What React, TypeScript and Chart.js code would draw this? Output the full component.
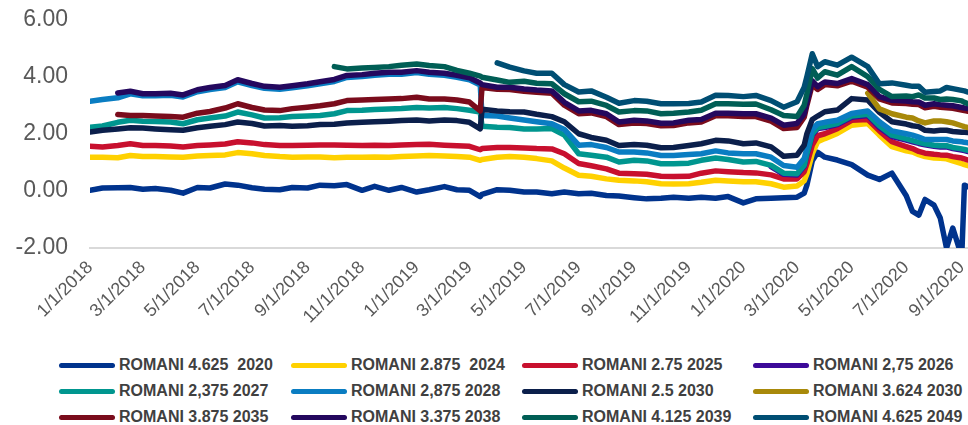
import React, { useEffect, useRef } from 'react';
import { Chart, registerables } from 'chart.js';

Chart.register(...registerables);

const dates = [
  '1/1/2018', '1/15/2018', '2/1/2018', '2/15/2018', '3/1/2018', '3/15/2018', '4/1/2018', '4/15/2018', '5/1/2018', '5/15/2018',
  '6/1/2018', '6/15/2018', '7/1/2018', '7/15/2018', '8/1/2018', '8/15/2018', '9/1/2018', '9/15/2018', '10/1/2018', '10/15/2018',
  '11/1/2018', '11/15/2018', '12/1/2018', '12/15/2018', '1/1/2019', '1/15/2019', '2/1/2019', '2/15/2019', '3/1/2019', '3/13/2019',
  '3/15/2019', '4/1/2019', '4/15/2019', '5/1/2019', '5/15/2019', '6/1/2019', '6/15/2019', '7/1/2019', '7/15/2019', '8/1/2019',
  '8/15/2019', '9/1/2019', '9/15/2019', '10/1/2019', '10/15/2019', '11/1/2019', '11/15/2019', '12/1/2019', '12/15/2019', '1/1/2020',
  '1/15/2020', '2/1/2020', '2/15/2020', '3/1/2020', '3/9/2020', '3/12/2020', '3/18/2020', '3/24/2020', '4/1/2020', '4/15/2020',
  '5/1/2020', '5/19/2020', '6/1/2020', '6/15/2020', '7/1/2020', '7/8/2020', '7/15/2020', '7/22/2020', '8/1/2020', '8/8/2020',
  '8/15/2020', '8/22/2020', '9/1/2020', '9/4/2020', '9/8/2020',
];

const tickLabels = [
  '1/1/2018', '3/1/2018', '5/1/2018', '7/1/2018', '9/1/2018', '11/1/2018',
  '1/1/2019', '3/1/2019', '5/1/2019', '7/1/2019', '9/1/2019', '11/1/2019',
  '1/1/2020', '3/1/2020', '5/1/2020', '7/1/2020', '9/1/2020',
];

const names = [
  'ROMANI 4.625  2020', 'ROMANI 2.875  2024', 'ROMANI 2.75 2025', 'ROMANI 2,75 2026',
  'ROMANI 2,375 2027', 'ROMANI 2,875 2028', 'ROMANI 2.5 2030', 'ROMANI 3.624 2030',
  'ROMANI 3.875 2035', 'ROMANI 3.375 2038', 'ROMANI 4.125 2039', 'ROMANI 4.625 2049',
];

const colors = [
  '#00338D', '#FFD100', '#C8102E', '#3C0A99',
  '#00968F', '#0A7DC2', '#0B1F4B', '#A8890A',
  '#7A0C1C', '#24085E', '#005E55', '#004E73',
];

const N = null;

const r2020 = [
  0.02, 0.10, 0.11, 0.12, 0.06, 0.08, 0.02, -0.08, 0.12, 0.10,
  0.24, 0.20, 0.11, 0.06, 0.04, 0.12, 0.10, 0.20, 0.18, 0.22,
  0.02, 0.16, 0.02, 0.12, -0.04, 0.04, 0.15, 0.04, 0.02, -0.20,
  -0.12, 0.04, 0.02, -0.04, -0.04, -0.10, -0.04, -0.10, -0.08, -0.16,
  -0.18, -0.24, -0.28, -0.26, -0.22, -0.26, -0.22, -0.26, -0.20, -0.42,
  -0.28, -0.26, -0.24, -0.22, -0.08, 0.20, 1.05, 1.35, 1.18, 1.08,
  0.92, 0.55, 0.40, 0.62, -0.17, -0.72, -0.85, -0.30, -0.50, -0.95,
  -2.00, -1.30, -2.30, 0.20, 0.15,
];

const r2024 = [
  1.18, 1.18, 1.16, 1.24, 1.20, 1.20, 1.19, 1.18, 1.22, 1.24,
  1.26, 1.34, 1.30, 1.24, 1.20, 1.18, 1.19, 1.19, 1.16, 1.18,
  1.18, 1.19, 1.18, 1.20, 1.22, 1.24, 1.22, 1.20, 1.18, 1.07,
  1.10, 1.18, 1.20, 1.18, 1.13, 1.05, 0.80, 0.55, 0.51, 0.42,
  0.37, 0.35, 0.32, 0.25, 0.24, 0.25, 0.30, 0.37, 0.35, 0.32,
  0.32, 0.25, 0.13, 0.17, 0.35, 0.60, 1.30, 1.72, 1.83, 2.01,
  2.30, 2.36, 1.95, 1.55, 1.40, 1.36, 1.27, 1.20, 1.15, 1.14,
  1.12, 1.05, 0.95, 0.92, 0.88,
];

const r2025 = [
  1.56, 1.54, 1.59, 1.65, 1.59, 1.59, 1.57, 1.54, 1.59, 1.61,
  1.64, 1.72, 1.68, 1.62, 1.59, 1.59, 1.60, 1.61, 1.61, 1.60,
  1.59, 1.60, 1.59, 1.61, 1.62, 1.63, 1.60, 1.58, 1.56, 1.44,
  1.48, 1.52, 1.52, 1.50, 1.48, 1.47, 1.30, 0.96, 0.88, 0.77,
  0.62, 0.60, 0.58, 0.51, 0.50, 0.51, 0.62, 0.70, 0.67, 0.64,
  0.63, 0.56, 0.42, 0.42, 0.67, 0.95, 1.60, 1.93, 2.00, 2.18,
  2.47, 2.50, 2.10, 1.72, 1.55, 1.48, 1.38, 1.32, 1.28, 1.26,
  1.25, 1.20, 1.15, 1.12, 1.08,
];

const r2026 = [
  N, N, N, N, N, N, N, N, N, N,
  N, N, N, N, N, N, N, N, N, N,
  N, N, N, N, N, N, N, N, N, N,
  N, N, N, N, N, N, N, N, N, N,
  N, N, N, N, N, N, N, N, N, N,
  N, 0.85, 0.58, 0.56, 0.86, 1.26, 1.95, 2.18, 2.22, 2.32,
  2.58, 2.64, 2.22, 1.90, 1.78, 1.72, 1.66, 1.61, 1.56, 1.54,
  1.54, 1.48, 1.43, 1.41, 1.38,
];

const r2027 = [
  2.23, 2.27, 2.40, 2.47, 2.44, 2.43, 2.41, 2.35, 2.49, 2.55,
  2.62, 2.76, 2.66, 2.55, 2.56, 2.60, 2.62, 2.64, 2.70, 2.81,
  2.82, 2.85, 2.87, 2.88, 2.92, 2.90, 2.92, 2.88, 2.82, 2.76,
  2.26, 2.23, 2.22, 2.17, 2.17, 2.18, 1.95, 1.30, 1.25, 1.18,
  1.01, 1.07, 1.05, 0.95, 0.95, 0.97, 1.07, 1.15, 1.10, 1.01,
  1.03, 0.89, 0.62, 0.60, 0.90, 1.30, 2.00, 2.22, 2.26, 2.36,
  2.62, 2.68, 2.28, 1.95, 1.82, 1.76, 1.70, 1.65, 1.60, 1.58,
  1.58, 1.52, 1.47, 1.45, 1.42,
];

const r2028 = [
  3.14, 3.20, 3.26, 3.40, 3.33, 3.33, 3.35, 3.29, 3.47, 3.55,
  3.62, 3.82, 3.69, 3.59, 3.56, 3.61, 3.68, 3.75, 3.83, 3.97,
  4.00, 4.05, 4.08, 4.08, 4.14, 4.08, 4.05, 3.98, 3.89, 3.71,
  2.64, 2.62, 2.55, 2.48, 2.42, 2.35, 2.15, 1.60, 1.62, 1.52,
  1.36, 1.36, 1.33, 1.24, 1.24, 1.27, 1.30, 1.40, 1.33, 1.30,
  1.30, 1.18, 0.89, 0.83, 1.13, 1.50, 2.15, 2.35, 2.40, 2.47,
  2.71, 2.80, 2.42, 2.10, 2.00, 1.95, 1.88, 1.80, 1.80, 1.80,
  1.80, 1.75, 1.72, 1.70, 1.68,
];

const r2030 = [
  2.06, 2.12, 2.17, 2.21, 2.20, 2.17, 2.14, 2.12, 2.21, 2.26,
  2.32, 2.41, 2.36, 2.27, 2.29, 2.26, 2.28, 2.32, 2.33, 2.38,
  2.40, 2.42, 2.44, 2.46, 2.48, 2.45, 2.48, 2.46, 2.40, 2.17,
  2.86, 2.80, 2.77, 2.76, 2.68, 2.60, 2.42, 2.00, 1.87, 1.77,
  1.59, 1.62, 1.60, 1.51, 1.52, 1.59, 1.65, 1.77, 1.75, 1.65,
  1.68, 1.54, 1.21, 1.25, 1.60, 2.00, 2.50, 2.62, 2.77, 2.83,
  3.23, 3.18, 2.75, 2.42, 2.34, 2.28, 2.25, 2.12, 2.10, 2.12,
  2.12, 2.08, 2.05, 2.05, 2.04,
];

const r2030b = [
  N, N, N, N, N, N, N, N, N, N,
  N, N, N, N, N, N, N, N, N, N,
  N, N, N, N, N, N, N, N, N, N,
  N, N, N, N, N, N, N, N, N, N,
  N, N, N, N, N, N, N, N, N, N,
  N, N, N, N, N, N, N, N, N, N,
  N, 3.42, 2.87, 2.70, 2.58, 2.55, 2.45, 2.38, 2.45, 2.45,
  2.42, 2.38, 2.28, 2.25, 2.22,
];

const r2035 = [
  N, N, 2.67, 2.64, 2.64, 2.62, 2.60, 2.58, 2.72, 2.78,
  2.90, 3.05, 2.92, 2.83, 2.81, 2.88, 2.93, 2.98, 3.05, 3.16,
  3.18, 3.20, 3.22, 3.23, 3.28, 3.22, 3.22, 3.18, 3.11, 2.80,
  3.62, 3.56, 3.55, 3.49, 3.45, 3.42, 3.00, 2.70, 2.73, 2.60,
  2.32, 2.38, 2.36, 2.28, 2.29, 2.38, 2.41, 2.63, 2.63, 2.60,
  2.60, 2.44, 2.18, 2.22, 2.58, 3.00, 3.72, 3.55, 3.72, 3.68,
  3.84, 3.63, 3.22, 3.08, 3.06, 3.03, 3.02, 2.91, 2.96, 2.93,
  2.91, 2.89, 2.83, 2.81, 2.79,
];

const r2038 = [
  N, N, 3.43, 3.49, 3.40, 3.40, 3.42, 3.36, 3.54, 3.62,
  3.69, 3.89, 3.76, 3.66, 3.63, 3.68, 3.75, 3.82, 3.90, 4.04,
  4.07, 4.12, 4.15, 4.15, 4.21, 4.15, 4.12, 4.05, 3.96, 3.78,
  3.72, 3.63, 3.63, 3.57, 3.53, 3.50, 3.10, 2.80, 2.82, 2.70,
  2.41, 2.47, 2.45, 2.37, 2.38, 2.47, 2.50, 2.72, 2.72, 2.70,
  2.70, 2.55, 2.30, 2.36, 2.70, 3.10, 3.85, 3.65, 3.81, 3.76,
  3.93, 3.72, 3.30, 3.17, 3.15, 3.12, 3.11, 3.00, 3.05, 3.02,
  3.00, 2.98, 2.92, 2.90, 2.88,
];

const r2039 = [
  N, N, N, N, N, N, N, N, N, N,
  N, N, N, N, N, N, N, N, 4.35, 4.27,
  4.30, 4.32, 4.35, 4.40, 4.44, 4.39, 4.35, 4.22, 4.12, 4.02,
  3.98, 3.88, 3.80, 3.84, 3.77, 3.75, 3.40, 3.12, 3.14, 2.99,
  2.76, 2.81, 2.80, 2.70, 2.72, 2.76, 2.82, 3.05, 3.05, 3.03,
  3.04, 2.84, 2.64, 2.60, 3.00, 3.40, 4.28, 3.95, 4.17, 4.05,
  4.35, 4.00, 3.55, 3.30, 3.32, 3.30, 3.36, 3.25, 3.25, 3.20,
  3.22, 3.20, 3.15, 3.10, 3.05,
];

const r2049 = [
  N, N, N, N, N, N, N, N, N, N,
  N, N, N, N, N, N, N, N, N, N,
  N, N, N, N, N, N, N, N, N, N,
  N, 4.48, 4.33, 4.20, 4.12, 4.12, 3.72, 3.46, 3.50, 3.28,
  3.07, 3.16, 3.14, 3.05, 3.05, 3.06, 3.11, 3.35, 3.34, 3.30,
  3.34, 3.16, 2.93, 3.12, 3.63, 4.00, 4.80, 4.35, 4.52, 4.40,
  4.68, 4.35, 3.75, 3.78, 3.70, 3.66, 3.66, 3.45, 3.48, 3.50,
  3.62, 3.58, 3.52, 3.50, 3.46,
];

const series = [r2020, r2024, r2025, r2026, r2027, r2028, r2030, r2030b, r2035, r2038, r2039, r2049];

const FONT = "'Liberation Sans', Arial, Helvetica, sans-serif";

function dayNum(s: string): number {
  const [m, d, y] = s.split('/').map(Number);
  return Math.round((Date.UTC(y, m - 1, d) - Date.UTC(2018, 0, 1)) / 86400000);
}

const legendCols = [59, 291, 522, 753];
const legendRows = [365, 391, 417];

export default function App() {
  const ref = useRef<HTMLCanvasElement | null>(null);

  useEffect(() => {
    const xs = dates.map(dayNum);
    const tickDays = tickLabels.map(dayNum);
    const labelMap: Record<number, string> = {};
    tickLabels.forEach((l, i) => { labelMap[tickDays[i]] = l; });

    const chart = new Chart(ref.current as HTMLCanvasElement, {
      type: 'line',
      data: {
        labels: xs,
        datasets: series.map((s, i) => ({
          label: names[i],
          data: s,
          borderColor: colors[i],
          backgroundColor: colors[i],
          order: series.length - i,
          spanGaps: false,
        })),
      },
      options: {
        responsive: false,
        animation: false,
        layout: { padding: { top: 19.5, left: 0, right: 0, bottom: 0 } },
        plugins: { legend: { display: false }, tooltip: { enabled: false } },
        elements: {
          point: { radius: 0, hoverRadius: 0 },
          line: { borderWidth: 5.5, tension: 0, borderCapStyle: 'round', borderJoinStyle: 'round' },
        },
        scales: {
          x: {
            type: 'linear',
            min: 0,
            max: xs[xs.length - 1],
            afterBuildTicks: (sc: any) => { sc.ticks = tickDays.map((v) => ({ value: v })); },
            afterFit: (sc: any) => { sc.height = 92; sc.paddingLeft = 0; sc.paddingRight = 0; },
            grid: { display: false, drawTicks: false },
            border: { display: true, color: '#d9d9d9', width: 2 },
            ticks: {
              autoSkip: false,
              maxRotation: 45,
              minRotation: 45,
              padding: 9,
              color: '#595959',
              font: { family: FONT, size: 18 },
              callback: (v: any) => labelMap[Number(v)] ?? '',
            },
          },
          y: {
            min: -2,
            max: 6,
            afterFit: (sc: any) => { sc.width = 90; sc.paddingTop = 0; sc.paddingBottom = 0; },
            grid: { display: false, drawTicks: false },
            border: { display: false },
            ticks: {
              stepSize: 2,
              padding: 22,
              color: '#595959',
              font: { family: FONT, size: 23 },
              callback: (v: any) => Number(v).toFixed(2),
            },
          },
        },
      },
    } as any);
    return () => chart.destroy();
  }, []);

  return (
    <div style={{ position: 'fixed', left: 0, top: 0, width: 968, height: 425, background: '#fff', overflow: 'hidden' }}>
      <canvas ref={ref} width={968} height={340} style={{ position: 'absolute', left: 0, top: 0, width: 968, height: 340 }} />
      {names.map((n, i) => {
        const col = legendCols[i % 4];
        const row = legendRows[Math.floor(i / 4)];
        return (
          <React.Fragment key={n}>
            <div style={{ position: 'absolute', left: col, top: row - 2.5, width: 56, height: 5, borderRadius: 3, background: colors[i] }} />
            <div style={{ position: 'absolute', left: col + 60, top: row - 10, height: 20, lineHeight: '20px', fontFamily: FONT, fontWeight: 'bold', fontSize: 16, color: '#404040', whiteSpace: 'pre' }}>{n}</div>
          </React.Fragment>
        );
      })}
    </div>
  );
}
